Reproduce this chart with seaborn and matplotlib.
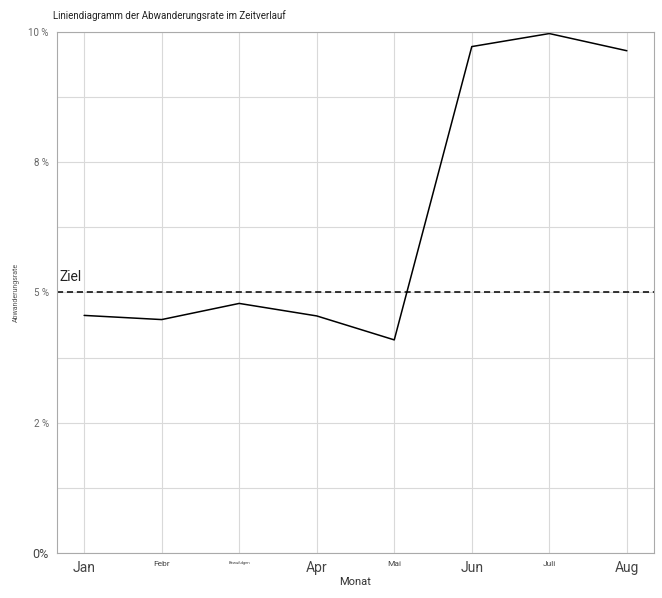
import numpy as np
import pandas as pd
import seaborn as sns
import matplotlib.pyplot as plt
from matplotlib.ticker import MultipleLocator

# --- Daten ---
monate = ["Jan", "Febr", "Bewußdgen", "Apr", "Mai", "Jun", "Juli", "Aug"]
monat_fontsize = [10, 6, 3, 10, 6, 10, 6, 10]
abwanderungsrate = [4.56, 4.48, 4.79, 4.55, 4.09, 9.72, 9.97, 9.64]
ziel = 5.0
y_ticks = [0, 2.5, 5, 7.5, 10]
y_labels = ["0%", "2 %", "5 %", "8 %", "10 %"]

df = pd.DataFrame({"pos": np.arange(len(monate)), "Abwanderungsrate": abwanderungsrate})

sns.set_theme(style="whitegrid")
plt.rcParams["font.family"] = ["Roboto", "DejaVu Sans"]

fig = plt.figure(figsize=(6.62, 5.98), dpi=100)
ax = fig.add_axes([0.0861, 0.0753, 0.9018, 0.8712])

sns.lineplot(data=df, x="pos", y="Abwanderungsrate", color="black", linewidth=1.1, ax=ax)
ax.axhline(ziel, color="black", linestyle=(0, (4, 2.5)), linewidth=1.1)
ax.text(-0.32, ziel + 0.16, "Ziel", fontsize=10, color="#222222", ha="left", va="bottom")

# Achsen
ax.set_xlim(-0.35, len(monate) - 1 + 0.35)
ax.set_ylim(0, 10)
ax.set_xticks(range(len(monate)))
ax.set_xticklabels(monate)
for lbl, fs in zip(ax.get_xticklabels(), monat_fontsize):
    lbl.set_fontsize(fs)
    lbl.set_color("#444444")
ax.set_yticks(y_ticks)
ax.set_yticklabels(y_labels)
for lbl in ax.get_yticklabels():
    lbl.set_fontsize(7)
    lbl.set_color("#666666")
ax.get_yticklabels()[0].set_fontsize(9)
ax.get_yticklabels()[0].set_color("#444444")
ax.yaxis.set_minor_locator(MultipleLocator(1.25))

ax.grid(which="both", axis="y", color="#d9d9d9", linewidth=0.8)
ax.grid(which="major", axis="x", color="#d9d9d9", linewidth=0.8)
ax.tick_params(axis="both", which="major", length=3, width=0.6, color="#888888", pad=3)
ax.tick_params(axis="y", which="minor", length=0)
for s in ax.spines.values():
    s.set_visible(True)
    s.set_color("#aaaaaa")
    s.set_linewidth(0.8)

ax.set_xlabel("Monat", fontsize=8, color="#333333", labelpad=1)
ax.set_ylabel("Abwanderungsrate", fontsize=5, color="#555555", labelpad=6)
fig.text(53 / 662, 1 - 16 / 598, "Liniendiagramm der Abwanderungsrate im Zeitverlauf",
         fontsize=7, color="#222222", ha="left", va="center")

fig.savefig("out.png", dpi=100, facecolor="white")
